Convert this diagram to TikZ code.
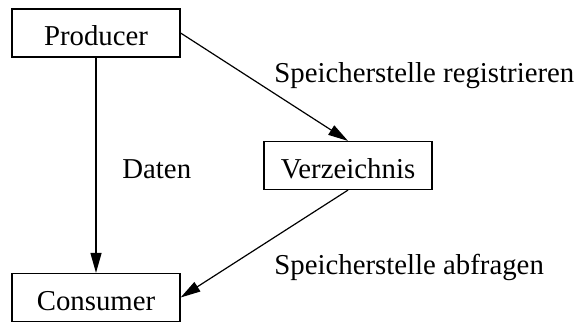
\documentclass[tikz,border=0pt]{standalone}
\usepackage{fontspec}
\setmainfont{Liberation Serif}
\usetikzlibrary{arrows.meta}

\tikzset{
  box/.style={draw, line width=0.6pt, minimum width=84pt, minimum height=24pt, inner sep=0pt, text height=12.5pt, text depth=0pt},
  lbl/.style={inner sep=0pt, anchor=base west},
  pfeil/.style={line width=0.6pt, -{Triangle[length=10pt,width=5.5pt]}}
}

\begin{document}
\begin{tikzpicture}[x=0.5pt,y=0.5pt,yscale=-1,xscale=1,font=\fontsize{14.4}{17}\selectfont]
\useasboundingbox (0,0) rectangle (577,321);

% Boxes
\node [box] (prod) at (96,33) {Producer};
\node [box] (cons) at (96,297.5) {Consumer};
\node [box] (verz) at (348,165.5) {Verzeichnis};

% Arrows
\draw [pfeil] (prod.south) -- (cons.north);
\draw [pfeil] (prod.east) -- (verz.north);
\draw [pfeil] (verz.south) -- (cons.east);

% Text Node
\node [lbl] (daten) at (122,178) {Daten};
% Text Node
\node [lbl] (reg) at (274,82) {Speicherstelle registrieren};
% Text Node
\node [lbl] (abf) at (274,274) {Speicherstelle abfragen};

\end{tikzpicture}
\end{document}
